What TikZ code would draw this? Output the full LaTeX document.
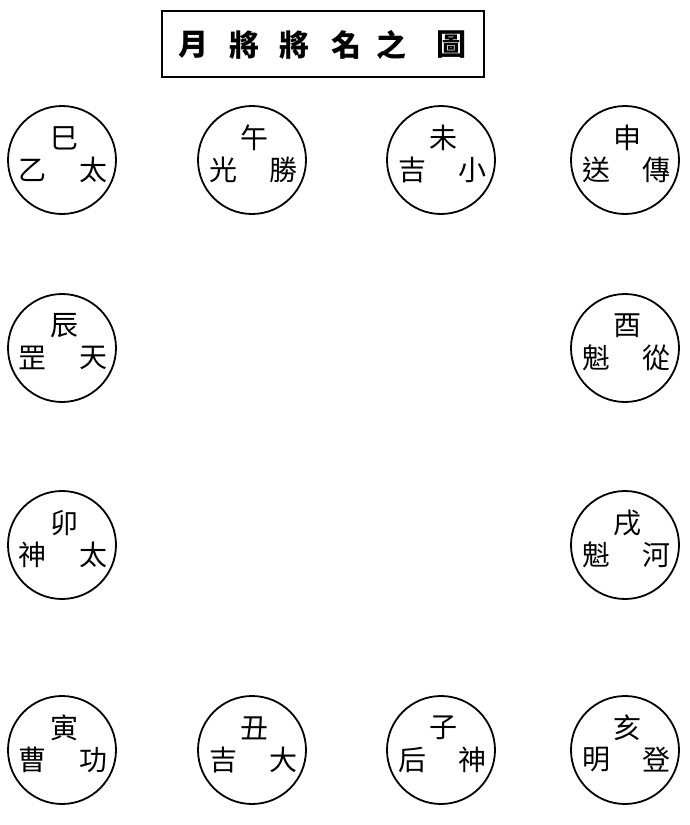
\documentclass[tikz,border=0pt]{standalone}
\usepackage{fontspec}
\newfontfamily\cjk{Noto Sans CJK TC}
\tikzset{
  ring/.style={draw, circle, line width=1.8pt, minimum size=108pt, inner sep=0pt},
  glyph/.style={font=\cjk\fontsize{28pt}{28pt}\selectfont, inner sep=0pt},
  titlebox/.style={draw, line width=2.4pt, minimum width=322pt, minimum height=66pt, inner sep=0pt},
  titleglyph/.style={font=\cjk\bfseries\fontsize{30pt}{30pt}\selectfont, inner sep=0pt}
}
\newcommand{\mjring}[6]{%
  \node[ring] (#1) at (#2) {};
  \node[glyph] (#1-t) at ([shift={(2,-22)}]#1.center) {#3};
  \node[glyph] (#1-l) at ([shift={(-29,10)}]#1.center) {#4};
  \node[glyph] (#1-r) at ([shift={(31,10)}]#1.center) {#5};
}
\begin{document}
\begin{tikzpicture}[x=1pt,y=-1pt]
\useasboundingbox (0,0) rectangle (690,825);
\node[titlebox] (title) at (323,44) {};
\node[titleglyph] (t1) at (193,45) {月};
\node[titleglyph] (t2) at (244,45) {將};
\node[titleglyph] (t3) at (294,45) {將};
\node[titleglyph] (t4) at (346,45) {名};
\node[titleglyph] (t5) at (391,45) {之};
\node[titleglyph] (t6) at (451,45) {圖};
\mjring{si}{62,160}{巳}{乙}{太}{}
\mjring{wu}{252,160}{午}{光}{勝}{}
\mjring{wei}{441,160}{未}{吉}{小}{}
\mjring{shen}{625,160}{申}{送}{傳}{}
\mjring{chen}{62,348}{辰}{罡}{天}{}
\mjring{you}{625,348}{酉}{魁}{從}{}
\mjring{mao}{62,545}{卯}{神}{太}{}
\mjring{xu}{625,545}{戌}{魁}{河}{}
\mjring{yin}{62,750}{寅}{曹}{功}{}
\mjring{chou}{252,750}{丑}{吉}{大}{}
\mjring{zi}{441,750}{子}{后}{神}{}
\mjring{hai}{625,750}{亥}{明}{登}{}
\end{tikzpicture}
\end{document}
